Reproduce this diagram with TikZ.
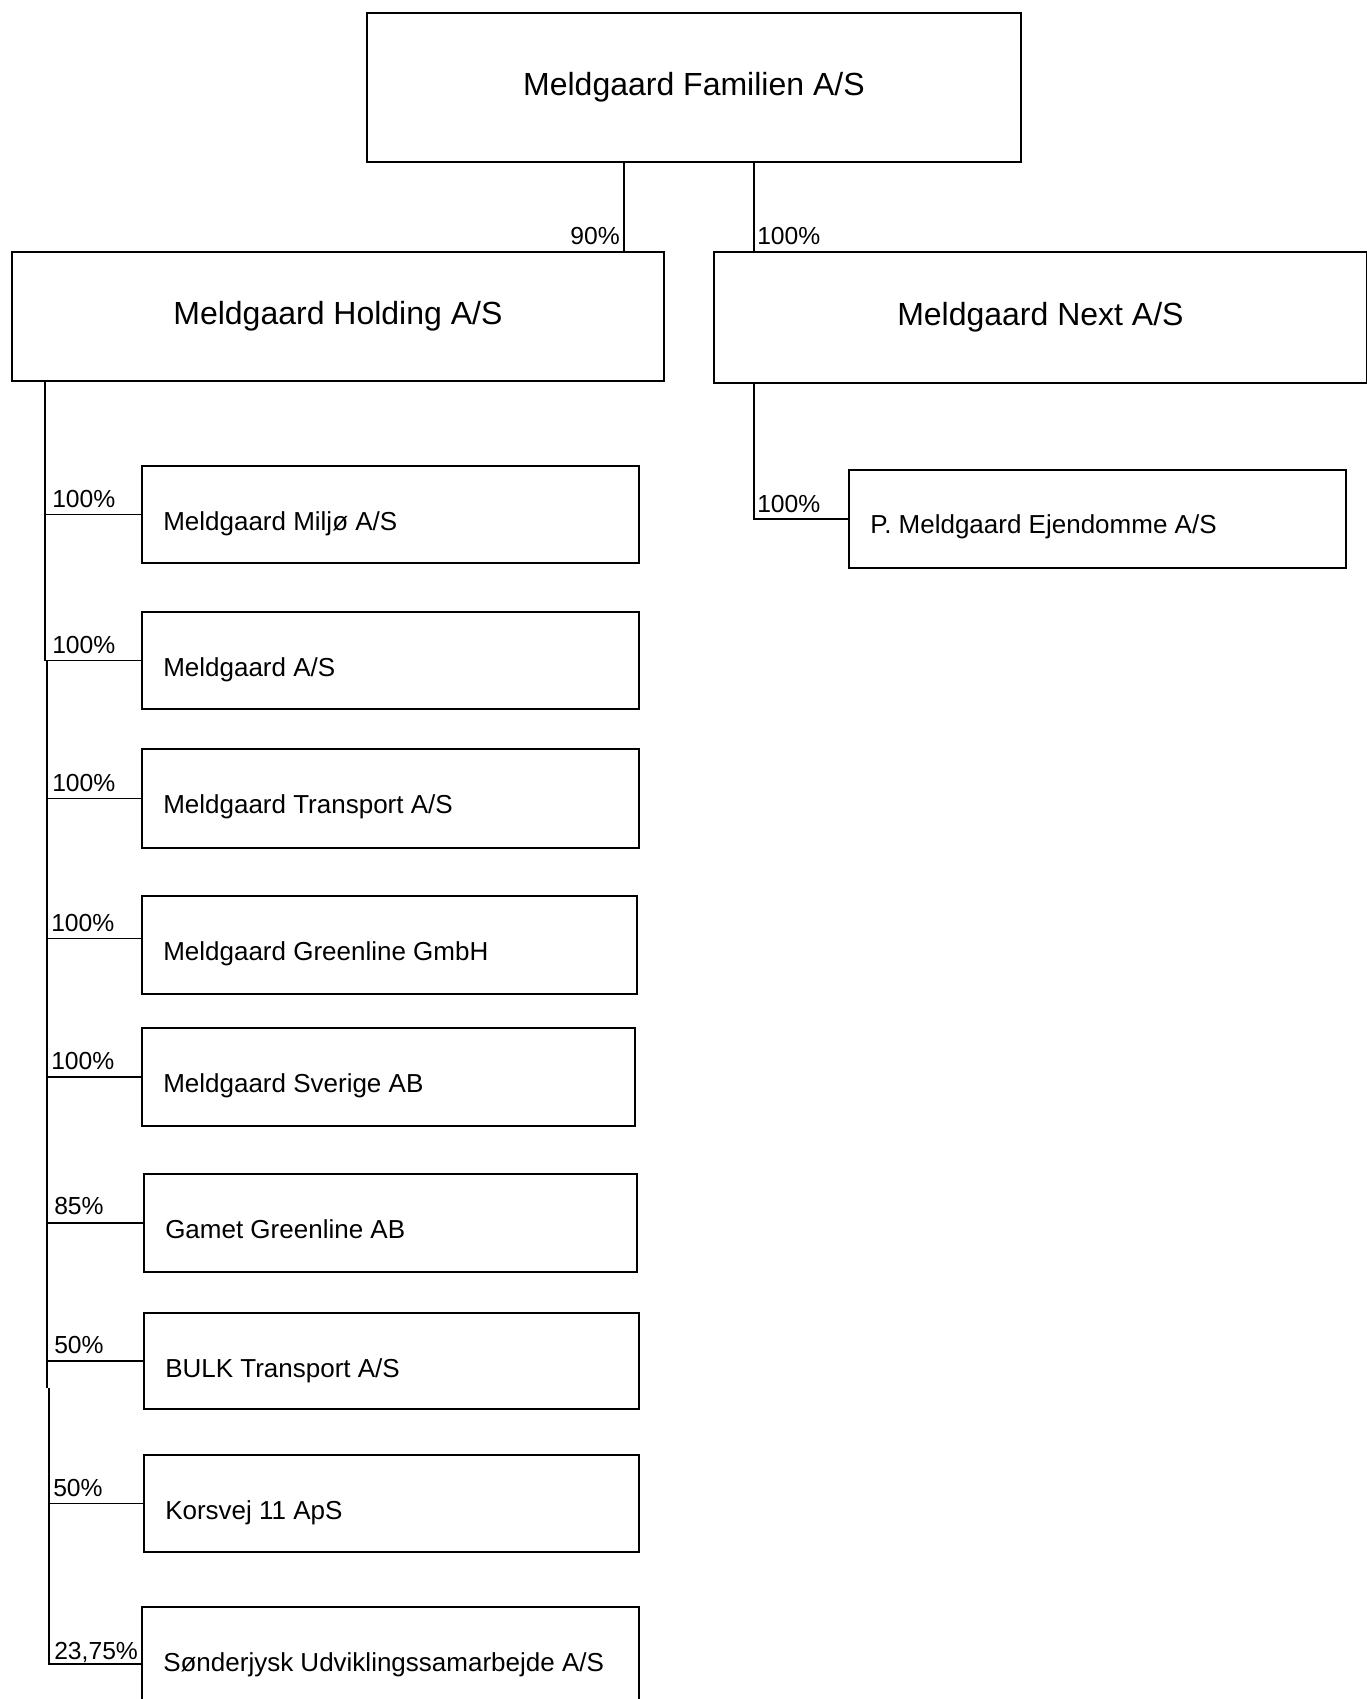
\documentclass[tikz,border=0pt]{standalone}
\usepackage{fontspec}
\setmainfont{Liberation Sans}
\def\px{0.75pt}
\tikzset{
  box/.style={draw, rectangle, anchor=north west, inner sep=0pt, line width=1.4pt},
  bigtxt/.style={font=\fontsize{24pt}{28pt}\selectfont},
  smalltxt/.style={font=\fontsize{19.5pt}{23pt}\selectfont, anchor=base west, inner sep=0pt},
  pct/.style={font=\fontsize{18.5pt}{22pt}\selectfont, inner sep=0pt},
  conn/.style={line width=1.1pt}
}
\begin{document}
\begin{tikzpicture}[x=0.75pt,y=-0.75pt]
\useasboundingbox[fill=white] (0,0) rectangle (1367,1699);
% top level
\node[box, minimum width=654*\px, minimum height=149*\px] (top) at (366,12) {};
\node[bigtxt] (top-t) at (top.center) {Meldgaard Familien A/S};
\node[box, minimum width=652*\px, minimum height=129*\px] (holding) at (11,251) {};
\node[bigtxt] (holding-t) at (holding.center) {Meldgaard Holding A/S};
\node[box, minimum width=653*\px, minimum height=131*\px] (next) at (713,251) {};
\node[bigtxt] (next-t) at (next.center) {Meldgaard Next A/S};
% children of Holding
\node[box, minimum width=497*\px, minimum height=97*\px] (miljo) at (141,465) {};
\node[box, minimum width=497*\px, minimum height=97*\px] (mas) at (141,611) {};
\node[box, minimum width=497*\px, minimum height=99*\px] (transport) at (141,748) {};
\node[box, minimum width=495*\px, minimum height=98*\px] (gmbh) at (141,895) {};
\node[box, minimum width=493*\px, minimum height=98*\px] (sverige) at (141,1027) {};
\node[box, minimum width=493*\px, minimum height=98*\px] (garnet) at (143,1173) {};
\node[box, minimum width=495*\px, minimum height=96*\px] (bulk) at (143,1312) {};
\node[box, minimum width=495*\px, minimum height=97*\px] (korsvej) at (143,1454) {};
\node[box, minimum width=497*\px, minimum height=97*\px] (sud) at (141,1606) {};
% child of Next
\node[box, minimum width=497*\px, minimum height=98*\px] (ejd) at (848,469) {};
% box texts
\node[smalltxt] (miljo-t) at ([shift={(22,65)}]miljo.north west) {Meldgaard Miljø A/S};
\node[smalltxt] (mas-t) at ([shift={(22,65)}]mas.north west) {Meldgaard A/S};
\node[smalltxt] (transport-t) at ([shift={(22,65)}]transport.north west) {Meldgaard Transport A/S};
\node[smalltxt] (gmbh-t) at ([shift={(22,65)}]gmbh.north west) {Meldgaard Greenline GmbH};
\node[smalltxt] (sverige-t) at ([shift={(22,65)}]sverige.north west) {Meldgaard Sverige AB};
\node[smalltxt] (garnet-t) at ([shift={(22,65)}]garnet.north west) {Gamet Greenline AB};
\node[smalltxt] (bulk-t) at ([shift={(22,65)}]bulk.north west) {BULK Transport A/S};
\node[smalltxt] (korsvej-t) at ([shift={(22,65)}]korsvej.north west) {Korsvej 11 ApS};
\node[smalltxt] (sud-t) at ([shift={(22,65)}]sud.north west) {Sønderjysk Udviklingssamarbejde A/S};
\node[smalltxt] (ejd-t) at ([shift={(22,64)}]ejd.north west) {P. Meldgaard Ejendomme A/S};
% trunk coordinates
\coordinate (c90) at (624,0);
\coordinate (c100) at (754,0);
\coordinate (t1) at (45,0);
\coordinate (t2) at (47,0);
\coordinate (t3) at (49,0);
\coordinate (brk) at (0,1388);
\coordinate (gj) at ([yshift=4.9pt]gmbh.west);
% connectors top
\draw[conn] (top.south -| c90) -- (holding.north -| c90);
\draw[conn] (top.south -| c100) -- (next.north -| c100);
\draw[conn] (next.south -| c100) |- (ejd.west);
% connectors holding
\draw[conn] (holding.south -| t1) |- (miljo.west);
\draw[conn] (holding.south -| t1) |- (mas.west);
\draw[conn] (mas.west -| t2) |- (transport.west);
\draw[conn] (transport.west -| t2) |- (gj);
\draw[conn] (gj -| t2) |- (sverige.west);
\draw[conn] (sverige.west -| t2) |- (garnet.west);
\draw[conn] (garnet.west -| t2) |- (bulk.west);
\draw[conn] (bulk.west -| t2) -- (brk -| t2);
\draw[conn] (brk -| t3) |- (korsvej.west);
\draw[conn] (korsvej.west -| t3) |- ([yshift=-6.4pt]sud.west);
% percentage labels
\node[pct, anchor=base east] (l90) at ([shift={(-4,-7)}]holding.north -| c90) {90\%};
\node[pct, anchor=base west] (l100n) at ([shift={(3,-7)}]next.north -| c100) {100\%};
\node[pct, anchor=base west] (l100e) at ([shift={(3,-6)}]ejd.west -| c100) {100\%};
\node[pct, anchor=base west] (lmiljo) at ([shift={(7,-7)}]miljo.west -| t1) {100\%};
\node[pct, anchor=base west] (lmas) at ([shift={(7,-7)}]mas.west -| t1) {100\%};
\node[pct, anchor=base west] (ltransport) at ([shift={(5,-7)}]transport.west -| t2) {100\%};
\node[pct, anchor=base west] (lgmbh) at ([shift={(4,-7)}]gj -| t2) {100\%};
\node[pct, anchor=base west] (lsverige) at ([shift={(4,-7)}]sverige.west -| t2) {100\%};
\node[pct, anchor=base west] (lgarnet) at ([shift={(7,-8)}]garnet.west -| t2) {85\%};
\node[pct, anchor=base west] (lbulk) at ([shift={(7,-7)}]bulk.west -| t2) {50\%};
\node[pct, anchor=base west] (lkorsvej) at ([shift={(4,-7)}]korsvej.west -| t3) {50\%};
\node[pct, anchor=base west] (lsud) at ([shift={(5,4)}]sud.west -| t3) {23,75\%};
\end{tikzpicture}
\end{document}
